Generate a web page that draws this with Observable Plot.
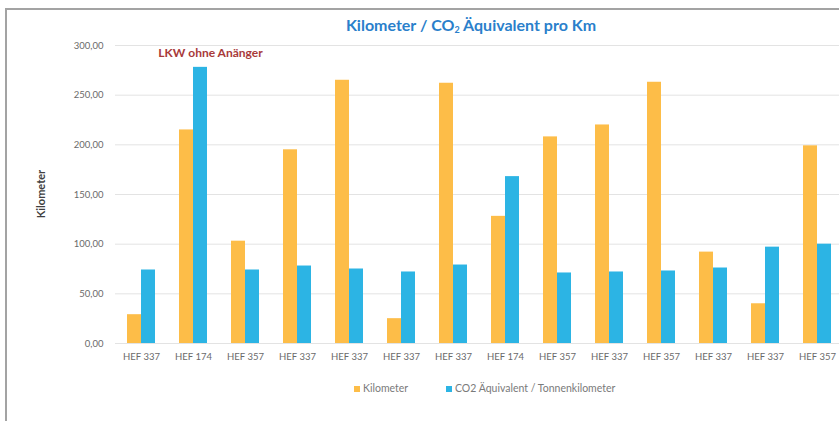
<!DOCTYPE html>
<html>
<head>
<meta charset="utf-8">
<script src="https://cdn.jsdelivr.net/npm/d3@7"></script>
<script src="https://cdn.jsdelivr.net/npm/@observablehq/plot@0.6"></script>
<style>
  html, body { margin: 0; padding: 0; background: #fff; overflow: hidden; }
  #wrap { position: relative; width: 839px; height: 421px; overflow: hidden; font-family: Lato, "Open Sans", sans-serif; }
  #frame { position: absolute; left: 5px; top: 8px; width: 900px; height: 500px; border: 2px solid #a3a3a3; box-sizing: border-box; }
  #title { position: absolute; left: 0; width: 942px; top: 15px; text-align: center; font-weight: 700; font-size: 16px; color: #2a7fcb; }
  #title sub { font-size: 9px; vertical-align: -2px; }
  #chart { position: absolute; left: 0; top: 0; }
  #ylabel { position: absolute; left: 40px; top: 194px; transform: translate(-50%, -50%) rotate(-90deg); font-weight: 700; font-size: 11px; color: #404040; white-space: nowrap; }
  #legend { position: absolute; top: 382px; left: 0; width: 839px; font-size: 10.5px; color: #7a7a7a; }
  .lg { position: absolute; white-space: nowrap; }
  .sw { display: inline-block; width: 6px; height: 6px; margin-right: 3px; vertical-align: 0px; }
</style>
</head>
<body>
<div id="wrap">
  <div id="frame"></div>
  <div id="chart"></div>
  <div id="title"></div>
  <div id="ylabel"></div>
  <div id="legend"></div>
</div>
<script>
const categories = ["HEF 337","HEF 174","HEF 357","HEF 337","HEF 337","HEF 337","HEF 337","HEF 174","HEF 357","HEF 337","HEF 357","HEF 337","HEF 337","HEF 357"];
const kilometer = [29, 215, 103, 195, 265, 25, 262, 128, 208, 220, 263, 92, 40, 199];
const co2 = [74, 278, 74, 78, 75, 72, 79, 168, 71, 72, 73, 76, 97, 100];
const seriesNames = ["Kilometer", "CO2 Äquivalent / Tonnenkilometer"];
const seriesColors = ["#fdbd48", "#2cb4e4"];
const yTicks = [0, 50, 100, 150, 200, 250, 300];
const yLabel = "Kilometer";
const annotation = "LKW ohne Anänger";
const annotationIndex = 1;

const data = [];
categories.forEach((c, i) => {
  data.push({i, series: seriesNames[0], value: kilometer[i]});
  data.push({i, series: seriesNames[1], value: co2[i]});
});

document.getElementById("title").innerHTML = "Kilometer / CO<sub>2</sub> Äquivalent pro Km";
document.getElementById("ylabel").textContent = yLabel;

const fmt = d => d.toFixed(2).replace(".", ",");

const chart = Plot.plot({
  width: 839,
  height: 421,
  marginTop: 45,
  marginBottom: 78,
  marginLeft: 113,
  marginRight: -6,
  style: {fontFamily: "Lato, 'Open Sans', sans-serif", fontSize: "9.5px", color: "#6a6a6a", background: "transparent"},
  fx: {domain: d3.range(categories.length), padding: 0, label: null},
  x: {domain: seriesNames, paddingInner: 0, paddingOuter: 0.8, axis: null},
  y: {domain: [0, 300], label: null},
  color: {domain: seriesNames, range: seriesColors},
  marks: [
    Plot.ruleY(yTicks, {stroke: "#e3e3e3", strokeWidth: 1}),
    Plot.axisY({ticks: yTicks, tickSize: 0, tickPadding: 12, tickFormat: fmt, label: null}),
    Plot.axisFx({anchor: "bottom", tickSize: 0, tickPadding: 10, tickFormat: i => categories[i], label: null}),
    Plot.barY(data, {fx: "i", x: "series", y: "value", fill: "series"}),
    Plot.text([{i: annotationIndex, y: 292}], {fx: "i", y: "y", text: () => annotation, dx: 17, fill: "#a83a3a", fontWeight: 700, fontSize: 12})
  ]
});
document.getElementById("chart").appendChild(chart);

const legend = document.getElementById("legend");
const lx = [354, 446];
seriesNames.forEach((s, k) => {
  const el = document.createElement("div");
  el.className = "lg";
  el.style.left = lx[k] + "px";
  el.innerHTML = `<span class="sw" style="background:${seriesColors[k]}"></span>${s}`;
  legend.appendChild(el);
});
</script>
</body>
</html>
